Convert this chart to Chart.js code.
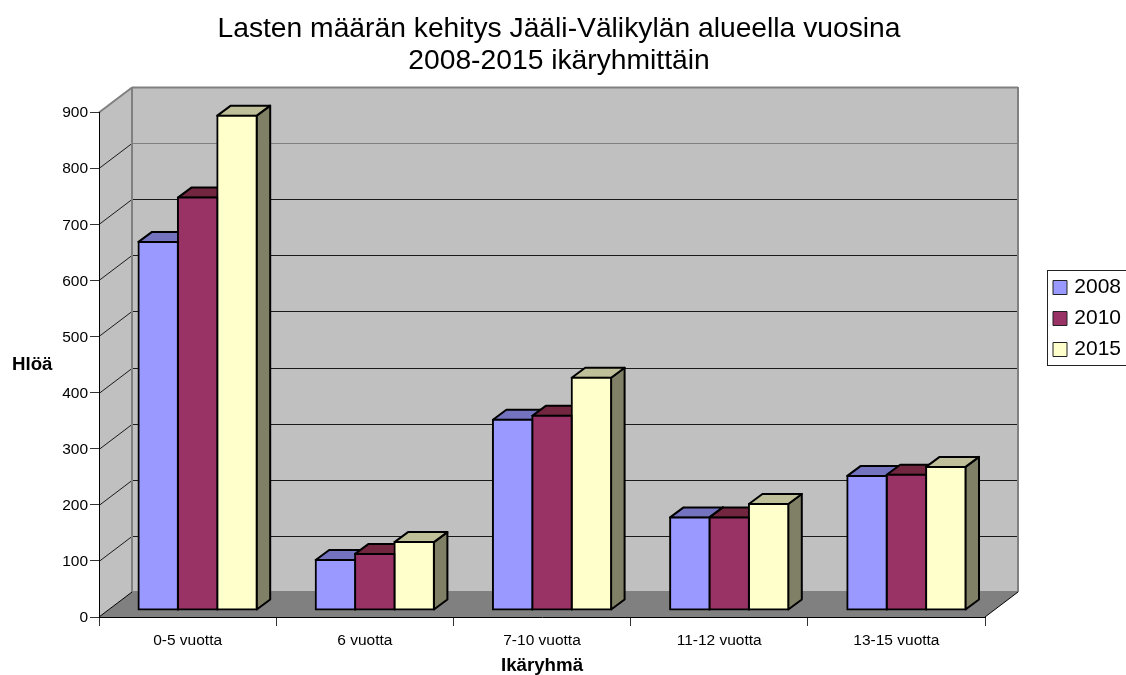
<!DOCTYPE html>
<html><head><meta charset="utf-8">
<style>html,body{margin:0;padding:0;background:#fff}#w{width:1126px;height:675px;position:relative}</style>
<script src="https://cdn.jsdelivr.net/npm/chart.js@4"></script>
</head><body><div id="w"><canvas id="c" width="1126" height="675"></canvas></div>
<script>
const categories = ['0-5 vuotta','6 vuotta','7-10 vuotta','11-12 vuotta','13-15 vuotta'];
const values2008 = [656, 89, 339, 165, 239];
const values2010 = [735, 100, 346, 165, 241];
const values2015 = [881, 121, 414, 189, 255];
const seriesNames = ['2008','2010','2015'];
const titleLines = ['Lasten määrän kehitys Jääli-Välikylän alueella vuosina','2008-2015 ikäryhmittäin'];
const yAxisTitle = 'Hlöä';
const xAxisTitle = 'Ikäryhmä';

const DX = 33, DY = -25;      // wall depth
const BX = 10, BY = -7;       // bar row shift
const FX = 13.5, FY = -10;    // bar depth
const FACE = ['#9999FF','#993366','#FFFFCC'];
const TOP  = ['#7373BF','#732640','#BFBF99'];
const SIDE = ['#4D4D80','#4D1A33','#808066'];
const FONT = '"Liberation Sans", Arial, sans-serif';

const poly = (ctx, pts, fill, stroke, lw) => {
  ctx.beginPath();
  pts.forEach((p,i)=> i?ctx.lineTo(p[0],p[1]):ctx.moveTo(p[0],p[1]));
  ctx.closePath();
  if (fill){ctx.fillStyle=fill;ctx.fill();}
  if (stroke){ctx.strokeStyle=stroke;ctx.lineWidth=lw;ctx.lineJoin='round';ctx.stroke();}
};

const threeD = {
  id:'threeD',
  beforeLayout(chart){
    const l = chart.legend;
    if (l && !l._fixed){
      l._fixed = true;
      const f = l.fit;
      l.fit = function(){ f.call(this); this.width = 141; };
    }
  },
  afterLayout(chart){
    const l = chart.legend;
    l.left = 1043; l.right = 1121; l.top = 267; l.bottom = 675;
    const t = chart.titleBlock;
    t.left = -4; t.right = 1122;
  },
  beforeDraw(chart){
    const ctx = chart.ctx, {left:L,right:R,top:T,bottom:B} = chart.chartArea;
    const y = chart.scales.y;
    ctx.save();
    poly(ctx,[[L+DX,T+DY],[R+DX,T+DY],[R+DX,B+DY],[L+DX,B+DY]],'#C0C0C0');
    poly(ctx,[[L,T],[L+DX,T+DY],[L+DX,B+DY],[L,B]],'#C0C0C0');
    poly(ctx,[[L,B],[L+DX,B+DY],[R+DX,B+DY],[R,B]],'#808080');
    y.ticks.forEach(t=>{
      if (t.value===0) return;
      const py = Math.round(y.getPixelForValue(t.value))+0.5;
      const top = t.value===900;
      ctx.lineWidth = top ? 2 : 1;
      ctx.strokeStyle = top ? '#808080' : '#1a1a1a';
      ctx.beginPath();ctx.moveTo(L,py);ctx.lineTo(L+DX,py+DY);ctx.stroke();
      ctx.strokeStyle = (top||t.value===800) ? '#808080' : '#1a1a1a';
      ctx.beginPath();ctx.moveTo(L+DX,py+DY);ctx.lineTo(R+DX,py+DY);ctx.stroke();
    });
    ctx.strokeStyle='#808080';ctx.lineWidth=2;
    ctx.beginPath();
    ctx.moveTo(L+DX,T+DY);ctx.lineTo(L+DX,B+DY);ctx.lineTo(R+DX,B+DY);
    ctx.moveTo(R+DX,T+DY);ctx.lineTo(R+DX,B+DY);
    ctx.stroke();
    ctx.strokeStyle='#000';ctx.lineWidth=1;
    ctx.beginPath();
    ctx.moveTo(R+DX,B+DY);ctx.lineTo(R,B);
    ctx.moveTo(L+DX,B+DY);ctx.lineTo(L,B);
    ctx.stroke();
    // legend frame
    ctx.lineWidth=1;ctx.strokeStyle='#222';
    ctx.strokeRect(1047.5,270.5,90,95);
    ctx.restore();
    ctx.save();
    ctx.fillStyle='#000';ctx.font='bold 18.7px '+FONT;ctx.textAlign='left';ctx.textBaseline='middle';
    ctx.fillText(yAxisTitle,12,365);
    ctx.restore();
  },
  beforeDatasetsDraw(chart){
    const ctx = chart.ctx;
    ctx.save();
    ctx.translate(BX,BY);
    chart.data.datasets.forEach((ds,i)=>{
      chart.getDatasetMeta(i).data.forEach(b=>{
        const xl=b.x-b.width/2, xr=b.x+b.width/2, yt=b.y, yb=b.base;
        poly(ctx,[[xr,yt],[xr+FX,yt+FY],[xr+FX,yb+FY],[xr,yb]],SIDE[i],'#000',2);
        poly(ctx,[[xl,yt],[xl+FX,yt+FY],[xr+FX,yt+FY],[xr,yt]],TOP[i],'#000',2);
      });
    });
  },
  afterDatasetsDraw(chart){ chart.ctx.restore(); }
};

const mk = (idx,data)=>({
  label:seriesNames[idx], data, clip:false,
  backgroundColor:FACE[idx], borderColor:'#000', borderWidth:2,
  borderSkipped:false, inflateAmount:1,
  categoryPercentage:0.667, barPercentage:1
});

new Chart(document.getElementById('c'),{
  type:'bar',
  data:{labels:categories,datasets:[mk(0,values2008),mk(1,values2010),mk(2,values2015)]},
  plugins:[threeD],
  options:{
    responsive:false, animation:false, devicePixelRatio:1,
    layout:{padding:0},
    plugins:{
      tooltip:{enabled:false},
      title:{display:true,text:titleLines,color:'#000',
        font:{family:FONT,size:28.25,weight:'normal',lineHeight:1.133},
        padding:{top:13,bottom:35}},
      legend:{position:'right',align:'start',onClick:null,
        labels:{boxWidth:14,boxHeight:14,padding:10,color:'#000',textAlign:'right',
          font:{family:FONT,size:21},
          generateLabels(chart){
            return Chart.defaults.plugins.legend.labels.generateLabels(chart).map(it=>Object.assign(it,{lineWidth:1,strokeStyle:'#222'}));
          }}}
    },
    scales:{
      x:{
        afterFit(s){s.height=58;},
        grid:{display:true,drawOnChartArea:false,drawTicks:true,tickLength:9,color:'#333',offset:true},
        border:{display:true,color:'#000',width:1},
        ticks:{color:'#000',font:{family:FONT,size:15.5},padding:5,maxRotation:0},
        title:{display:true,text:xAxisTitle,color:'#000',font:{family:FONT,size:18.7,weight:'bold'},padding:{top:4,bottom:-2}}
      },
      y:{
        min:0,max:900,
        afterFit(s){s.width=99;},
        grid:{display:true,drawOnChartArea:false,drawTicks:true,tickLength:9,color:'#333'},
        border:{display:true,color:'#000',width:1},
        ticks:{stepSize:100,color:'#000',font:{family:FONT,size:15.5},padding:2,labelOffset:1}
      }
    }
  }
});
</script></body></html>
